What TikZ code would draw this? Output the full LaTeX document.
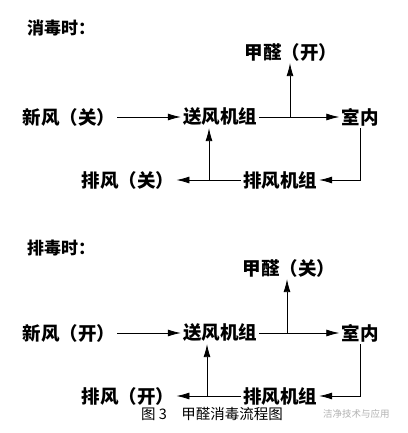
\documentclass[tikz,border=0pt]{standalone}
\usepackage{fontspec}
\setmainfont{Noto Sans CJK SC}
\usetikzlibrary{arrows.meta}
\tikzset{
    lbl/.style={font=\fontsize{18.5}{21}\selectfont\bfseries, inner sep=2pt},
    ttl/.style={font=\fontsize{17}{20}\selectfont\bfseries, anchor=west, inner sep=0pt},
    flow/.style={-{Latex[length=13pt,width=7pt]}, line width=0.8pt},
    wire/.style={line width=0.8pt}
}
\begin{document}
\begin{tikzpicture}[x=1pt, y=-1pt]
    \useasboundingbox (0,0) rectangle (407,433);
    % Disinfection mode
    \node[ttl] (tA) at (27,28) {消毒时：};
    \node[lbl] (jqA) at (291,52) {甲醛（开）};
    \node[lbl] (xfA) at (69,117) {新风（关）};
    \node[lbl] (sfA) at (220,117) {送风机组};
    \node[lbl] (snA) at (360,117) {室内};
    \node[lbl] (pjA) at (280,180) {排风机组};
    \node[lbl] (pfA) at (128,180) {排风（关）};
    \coordinate (upA) at (290,117);
    \coordinate (backA) at (209,180);
    \draw[flow] (xfA) -- (sfA);
    \draw[flow] (sfA) -- (snA);
    \draw[flow] (upA) -- (upA |- jqA.south);
    \draw[flow] (snA.south) |- (pjA.east);
    \draw[flow] (pjA) -- (pfA);
    \draw[flow] (backA) -- (backA |- sfA.south);
    % Exhaust mode
    \node[ttl] (tB) at (27,248) {排毒时：};
    \node[lbl] (jqB) at (289,268) {甲醛（关）};
    \node[lbl] (xfB) at (69,333) {新风（开）};
    \node[lbl] (sfB) at (220,333) {送风机组};
    \node[lbl] (snB) at (360,333) {室内};
    \node[lbl] (pjB) at (280,396) {排风机组};
    \node[lbl] (pfB) at (128,396) {排风（开）};
    \coordinate (upB) at (287,333);
    \coordinate (backB) at (207,396);
    \draw[flow] (xfB) -- (sfB);
    \draw[flow] (sfB) -- (snB);
    \draw[flow] (upB) -- (upB |- jqB.south);
    \draw[flow] (snB.south) |- (pjB.east);
    \draw[flow] (pjB) -- (pfB);
    \draw[flow] (backB) -- (backB |- sfB.south);
    % Caption and watermark
    \node[font=\fontsize{14.5}{16}\selectfont, inner sep=0pt] (cap) at (212,414) {图 3\quad 甲醛消毒流程图};
    \node[font=\fontsize{9.5}{11}\selectfont, text=black!30, inner sep=0pt, anchor=west] (wm) at (323,414) {洁净技术与应用};
\end{tikzpicture}
\end{document}
